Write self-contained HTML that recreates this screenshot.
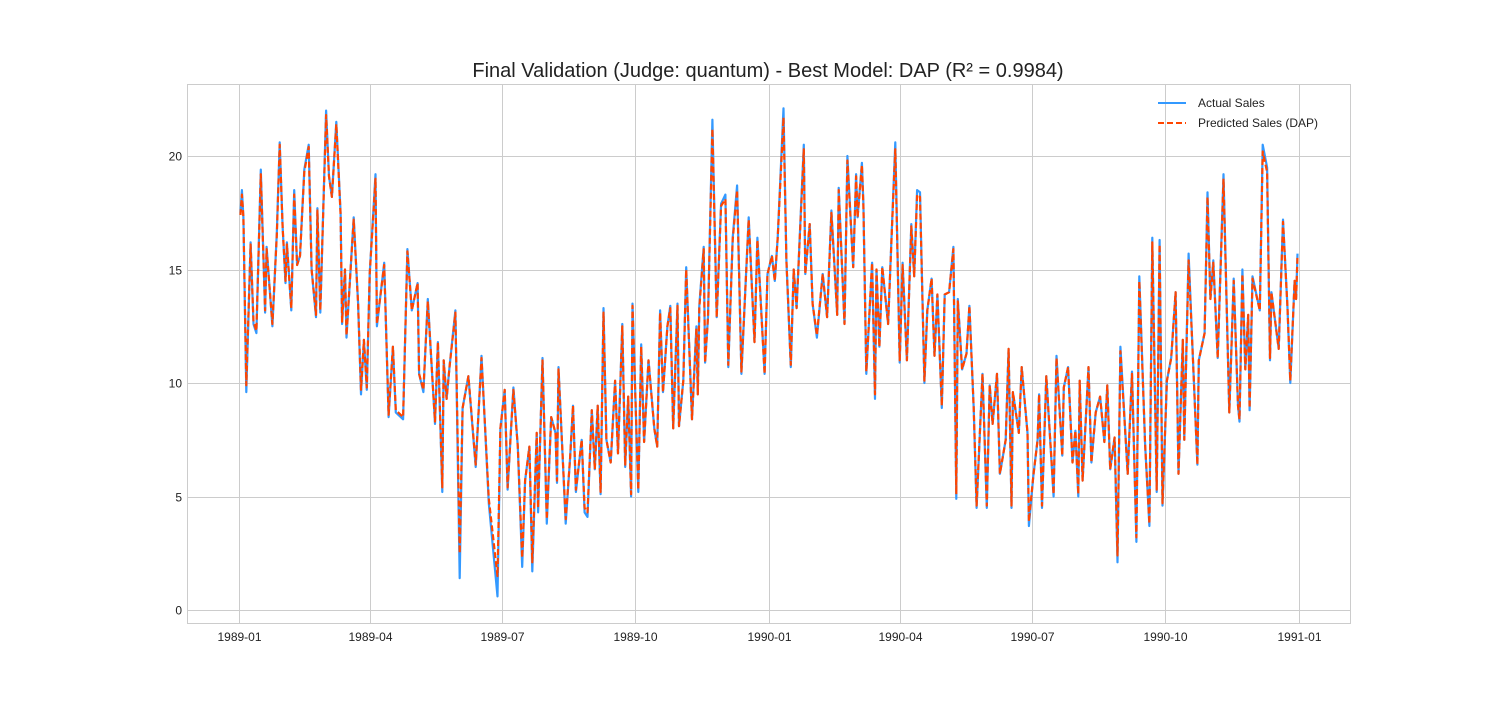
<!DOCTYPE html>
<html><head><meta charset="utf-8">
<style>
html,body{margin:0;padding:0;background:#fff;}
svg text{font-family:"Liberation Sans",Arial,sans-serif;}
</style></head>
<body>
<svg id="chart" width="1500" height="700" xmlns="http://www.w3.org/2000/svg">
<rect width="1500" height="700" fill="#fff"/>
<text x="768" y="77" text-anchor="middle" font-size="20" fill="#222">Final Validation (Judge: quantum) - Best Model: DAP (R² = 0.9984)</text>
<g id="grid"></g>
<g id="ticks"></g>
<g id="series"></g>
<rect x="187.5" y="84.5" width="1163" height="539" fill="none" stroke="#ccc" stroke-width="1"/>
<g>
<g>
<line x1="1158" y1="103" x2="1186" y2="103" stroke="#3399ff" stroke-width="2"/>
<text x="1198" y="107" font-size="12" fill="#222">Actual Sales</text></g>
<g>
<line x1="1158" y1="123" x2="1186" y2="123" stroke="#ff4500" stroke-width="2" stroke-dasharray="6,3"/>
<text x="1198" y="127" font-size="12" fill="#222">Predicted Sales (DAP)</text></g>
</g>
</svg>
<script>
const days = [1,2,3,5,8,10,12,15,18,19,23,26,28,30,32,33,36,38,40,42,45,48,50,53,54,56,60,62,64,67,70,71,73,74,79,82,84,86,88,90,94,95,100,103,106,108,113,116,119,123,124,127,130,135,137,140,141,143,145,149,152,154,158,163,167,172,178,180,183,
185,189,192,195,197,200,202,205,206,209,212,215,218,219,220,225,228,230,232,236,238,240,243,245,247,249,251,253,256,259,261,264,266,268,270,271,275,277,279,282,286,288,290,292,295,297,299,302,303,306,308,312,315,316,317,320,321,323,326,329,332,335,337,340,343,346,351,355,357,362,364,
367,369,371,375,377,380,382,384,389,390,393,395,398,402,405,408,412,413,417,419,423,425,426,429,430,432,436,438,439,441,443,447,450,452,455,457,460,463,465,467,469,472,474,477,479,481,484,486,489,492,494,495,498,501,503,506,508,512,515,517,519,522,524,528,530,532,533,537,539,543,544,547,550,551,553,556,
561,563,567,568,571,574,576,578,579,581,585,587,590,593,596,598,600,603,605,607,612,615,618,620,624,627,629,632,634,636,639,642,645,647,650,651,654,657,660,661,665,667,669,671,674,678,682,685,688,689,691,693,695,696,698,703,705,708,710,711,716,719,722,724,727,728,729];
const actual = [17.5,18.5,17.3,9.6,16.2,12.6,12.2,19.4,13.1,16.0,12.5,16.6,20.6,16.9,14.4,16.2,13.2,18.5,15.2,15.6,19.4,20.5,15.0,12.9,17.7,13.1,22.0,19.1,18.2,21.5,17.5,12.6,15.0,12.0,17.3,13.5,9.5,11.9,9.7,14.8,19.2,12.5,15.3,8.5,11.6,8.7,8.4,15.9,13.2,14.4,10.4,9.6,13.7,8.2,11.8,5.2,11.0,9.3,10.7,13.2,1.4,8.9,10.3,6.3,11.2,4.7,0.6,8.0,9.7,
5.3,9.8,7.2,1.9,5.7,7.2,1.7,7.8,4.3,11.1,3.8,8.5,7.8,5.6,10.7,3.8,6.7,9.0,5.2,7.5,4.3,4.1,8.8,6.2,9.0,5.1,13.3,7.5,6.5,10.1,6.9,12.6,6.3,9.4,5.0,13.5,5.2,11.7,7.4,11.0,8.0,7.2,13.2,9.6,12.5,13.4,8.0,13.5,8.1,10.1,15.1,8.4,12.5,9.5,13.4,16.0,10.9,12.9,21.6,12.9,17.9,18.3,10.7,16.4,18.7,10.4,17.3,11.8,16.4,10.4,14.8,
15.6,14.5,16.4,22.1,15.4,10.7,15.0,13.3,20.5,14.8,17.0,13.5,12.0,14.8,12.9,17.6,13.0,18.6,12.6,20.0,15.1,19.2,17.3,19.7,17.9,10.4,15.3,9.3,15.0,11.6,15.1,12.6,17.4,20.6,10.9,15.3,11.0,17.0,14.7,18.5,18.4,10.0,13.2,14.6,11.2,13.9,8.9,13.9,14.0,16.0,4.9,13.7,10.6,11.3,13.4,8.9,4.5,10.4,4.5,9.9,8.2,10.4,6.0,7.5,11.5,4.5,9.6,7.8,10.7,7.8,3.7,5.9,7.5,9.5,4.5,10.3,5.0,
11.2,6.8,9.8,10.7,6.5,7.9,5.0,10.1,5.7,10.7,6.5,8.7,9.4,7.4,9.9,6.2,7.6,2.1,11.6,6.0,10.5,3.0,14.7,7.3,3.7,16.4,5.2,16.3,4.6,10.1,11.1,14.0,6.0,11.9,7.5,15.7,11.0,6.4,11.0,12.2,18.4,13.7,15.4,11.1,19.2,8.7,14.6,9.0,8.3,15.0,10.6,13.0,8.8,14.7,13.2,20.5,19.5,11.0,14.0,11.5,17.2,13.4,10.0,14.5,13.7,15.7,13.0];
const predicted = [17.4,18.3,17.3,9.9,16.1,12.7,12.3,19.2,13.2,15.9,12.6,16.5,20.5,16.9,14.5,16.1,13.3,18.3,15.2,15.6,19.3,20.4,15.0,13.0,17.6,13.2,21.8,19.1,18.2,21.4,17.4,12.7,15.0,12.1,17.2,13.5,9.7,11.9,9.8,14.8,19.0,12.6,15.2,8.6,11.6,8.8,8.5,15.8,13.2,14.4,10.4,9.7,13.6,8.3,11.8,5.4,11.0,9.3,10.7,13.1,2.5,8.9,10.3,6.4,11.1,4.9,1.5,8.0,9.7,
5.4,9.7,7.2,2.3,5.7,7.2,2.1,7.8,4.5,11.0,4.0,8.5,7.8,5.7,10.6,4.0,6.7,9.0,5.3,7.5,4.5,4.3,8.8,6.2,9.0,5.2,13.1,7.5,6.5,10.1,6.9,12.5,6.4,9.4,5.1,13.4,5.3,11.6,7.4,11.0,8.0,7.2,13.1,9.6,12.5,13.3,8.0,13.4,8.1,10.1,15.0,8.4,12.4,9.5,13.3,15.9,10.9,12.9,21.2,12.9,17.8,18.1,10.8,16.3,18.5,10.5,17.2,11.8,16.3,10.4,14.8,
15.6,14.5,16.4,21.7,15.4,10.8,15.0,13.3,20.3,14.8,17.0,13.5,12.1,14.8,12.9,17.5,13.0,18.5,12.6,19.8,15.1,19.1,17.3,19.6,17.8,10.5,15.3,9.5,15.0,11.6,15.1,12.6,17.3,20.3,11.0,15.2,11.0,16.9,14.7,18.3,18.2,10.1,13.2,14.6,11.2,13.9,9.0,13.9,14.0,15.9,5.1,13.6,10.6,11.3,13.4,8.9,4.6,10.4,4.6,9.9,8.2,10.4,6.0,7.5,11.5,4.6,9.6,7.8,10.7,7.8,3.9,5.9,7.5,9.5,4.6,10.3,5.1,
11.1,6.8,9.8,10.7,6.5,7.9,5.1,10.1,5.7,10.7,6.5,8.7,9.4,7.4,9.9,6.2,7.6,2.4,11.4,6.0,10.4,3.2,14.5,7.3,3.8,16.2,5.3,16.1,4.7,10.1,11.1,14.0,6.0,11.9,7.5,15.4,11.0,6.4,11.0,12.2,18.2,13.7,15.3,11.1,19.0,8.7,14.5,9.0,8.4,14.8,10.6,13.0,8.9,14.6,13.2,20.2,19.3,11.1,14.0,11.5,17.1,13.4,10.1,14.5,13.7,15.6,13.0];
const yTicks = [0,5,10,15,20];
const xTickLabels = ["1989-01","1989-04","1989-07","1989-10","1990-01","1990-04","1990-07","1990-10","1991-01"];
const xTickDays = [0,90,181,273,365,455,546,638,730];

const NS = "http://www.w3.org/2000/svg";
const X0 = 239, PXD = 1060/730, Y0 = 610, PXU = 22.7;
function xs(d){ return X0 + d*PXD; }
function ys(v){ return Y0 - v*PXU; }
function mk(tag, attrs, parent){
  const e = document.createElementNS(NS, tag);
  for (const k in attrs) e.setAttribute(k, attrs[k]);
  parent.appendChild(e); return e;
}
const grid = document.getElementById('grid');
const ticks = document.getElementById('ticks');
const series = document.getElementById('series');

yTicks.forEach(v => {
  const y = Math.round(ys(v)) + 0.5;
  const l = mk('line', {x1:188, x2:1350, y1:y, y2:y, stroke:'#cccccc', 'stroke-width':1}, grid);
  
  
  const t = mk('text', {x:182, y:y+4, 'text-anchor':'end', 'font-size':12, fill:'#222'}, ticks);
  t.textContent = String(v);
  
  
});
xTickDays.forEach((d, i) => {
  const x = Math.round(xs(d)) + 0.5;
  const l = mk('line', {x1:x, x2:x, y1:85, y2:623, stroke:'#cccccc', 'stroke-width':1}, grid);
  
  
  const t = mk('text', {x:x, y:641, 'text-anchor':'middle', 'font-size':12, fill:'#222'}, ticks);
  t.textContent = xTickLabels[i];
  
  
});
function pathFor(vals){
  return vals.map((v, i) => (i ? 'L' : 'M') + xs(days[i]).toFixed(1) + ' ' + ys(v).toFixed(1)).join(' ');
}
const pa = mk('path', {d:pathFor(actual), fill:'none', stroke:'#3399ff', 'stroke-width':2.2, 'stroke-linejoin':'round'}, series);


const pp = mk('path', {d:pathFor(predicted), fill:'none', stroke:'#ff4500', 'stroke-width':2.2, 'stroke-dasharray':'6,3', 'stroke-linejoin':'round'}, series);


</script>
</body></html>
